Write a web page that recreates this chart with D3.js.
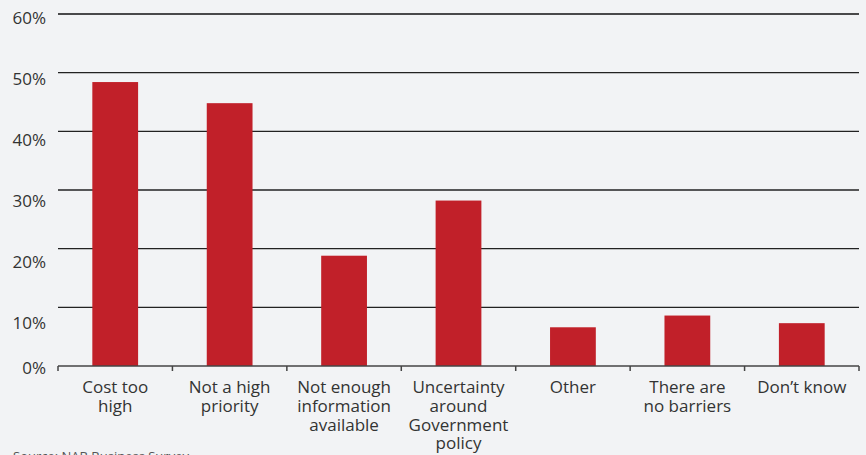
<!DOCTYPE html>
<html>
<head>
<meta charset="utf-8">
<script src="https://cdn.jsdelivr.net/npm/d3@7"></script>
<style>
  html, body { margin: 0; padding: 0; background: #f2f3f5; }
  svg { display: block; }
  text { font-family: "Open Sans", "Noto Sans", sans-serif; fill: #333; }
</style>
</head>
<body>
<svg id="chart" width="866" height="455"></svg>
<script>
// Barriers to action, share of businesses (%)
const categories = [
  ["Cost too", "high"],
  ["Not a high", "priority"],
  ["Not enough", "information", "available"],
  ["Uncertainty", "around", "Government", "policy"],
  ["Other"],
  ["There are", "no barriers"],
  ["Don\u2019t know"]
];
const values = [48.4, 44.8, 18.8, 28.2, 6.6, 8.6, 7.3];
const yTicks = [0, 10, 20, 30, 40, 50, 60];
const source = "Source: NAB Business Survey";

const svg = d3.select("#chart");
const plotLeft = 58, plotRight = 859, plotTop = 14, plotBottom = 366;

const keys = categories.map((c, i) => i);
const x = d3.scaleBand().domain(keys).range([plotLeft, plotRight])
  .paddingInner(0.6).paddingOuter(0.3);
const slot = d3.scaleBand().domain(keys).range([plotLeft, plotRight]).padding(0);
const y = d3.scaleLinear().domain([0, 60]).range([plotBottom, plotTop]);
// tick labels sit a little below their gridlines, drifting lower toward the bottom
const yLabel = d3.scaleLinear().domain([0, 10, 60]).range([368, 323, 18.5]);

// gridlines
svg.append("g").selectAll("line")
  .data(yTicks.filter(t => t > 0))
  .join("line")
  .attr("x1", plotLeft).attr("x2", plotRight)
  .attr("y1", d => y(d)).attr("y2", d => y(d))
  .attr("stroke", d => d === 60 ? "#111" : "#222")
  .attr("stroke-width", 1.4);

// y tick labels
svg.append("g").selectAll("text")
  .data(yTicks)
  .join("text")
  .attr("x", 46)
  .attr("y", d => yLabel(d))
  .attr("dy", "0.35em")
  .attr("text-anchor", "end")
  .attr("font-size", 17)
  .text(d => d + "%");

// bars
svg.append("g").selectAll("rect")
  .data(values)
  .join("rect")
  .attr("x", (d, i) => x(i))
  .attr("width", x.bandwidth())
  .attr("y", d => y(d))
  .attr("height", d => y(0) - y(d))
  .attr("fill", "#c12029");

// x axis baseline with ticks at slot boundaries
const axis = svg.append("g").attr("stroke", "#444").attr("stroke-width", 1.5);
axis.append("line").attr("x1", plotLeft).attr("x2", plotRight)
  .attr("y1", y(0)).attr("y2", y(0));
const bounds = keys.map(k => slot(k)).concat([slot(keys[keys.length - 1]) + slot.bandwidth()]);
axis.selectAll("line.tick")
  .data(bounds)
  .join("line")
  .attr("class", "tick")
  .attr("x1", d => d).attr("x2", d => d)
  .attr("y1", y(0)).attr("y2", y(0) + 5);

// category labels
const lab = svg.append("g").selectAll("text")
  .data(categories)
  .join("text")
  .attr("text-anchor", "middle")
  .attr("font-size", 17)
  .attr("transform", (d, i) => `translate(${slot(i) + slot.bandwidth() / 2},393)`);
lab.selectAll("tspan")
  .data(d => d)
  .join("tspan")
  .attr("x", 0)
  .attr("y", (d, j) => j * 18.8)
  .text(d => d);

// source note
svg.append("text")
  .attr("x", 13).attr("y", 461)
  .attr("font-size", 13)
  .style("fill", "#555")
  .text(source);
</script>
</body>
</html>
